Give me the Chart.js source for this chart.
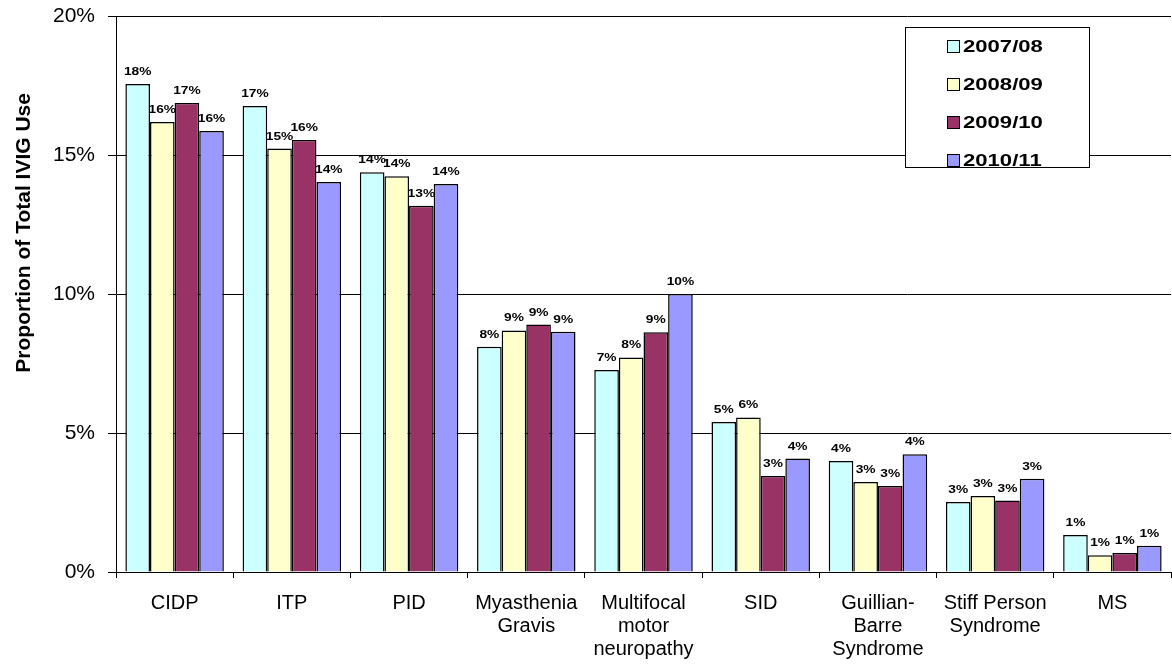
<!DOCTYPE html>
<html>
<head>
<meta charset="utf-8">
<script src="https://cdn.jsdelivr.net/npm/chart.js@4.4.0/dist/chart.umd.min.js"></script>
<style>
  html, body { margin: 0; padding: 0; background: #fff; }
  #wrap { width: 1172px; height: 665px; }
</style>
</head>
<body>
<div id="wrap"><canvas id="c" width="1172" height="665"></canvas></div>
<script>
const categories = [
  'CIDP', 'ITP', 'PID', ['Myasthenia', 'Gravis'], ['Multifocal', 'motor', 'neuropathy'],
  'SID', ['Guillian-', 'Barre', 'Syndrome'], ['Stiff Person', 'Syndrome'], 'MS'
];
const seriesNames = ['2007/08', '2008/09', '2009/10', '2010/11'];
const values0708 = [17.55, 16.76, 14.38, 8.10, 7.27, 5.40, 3.99, 2.52, 1.33];
const values0809 = [16.19, 15.23, 14.24, 8.69, 7.72, 5.56, 3.24, 2.73, 0.60];
const values0910 = [16.87, 15.54, 13.17, 8.90, 8.62, 3.45, 3.09, 2.57, 0.68];
const values1011 = [15.86, 14.03, 13.96, 8.64, 10.00, 4.08, 4.24, 3.35, 0.94];
const yTicks = [0, 5, 10, 15, 20];
const yTitle = 'Proportion of Total IVIG Use';

const colors = ['#CCFFFF', '#FFFFCC', '#993366', '#9999FF'];
const allValues = [values0708, values0809, values0910, values1011];

const valueLabels = {
  id: 'valueLabels',
  afterDatasetsDraw(chart) {
    const ctx = chart.ctx;
    ctx.save();
    ctx.fillStyle = '#000';
    ctx.font = 'bold 11px "Liberation Sans", Arial, sans-serif';
    ctx.textAlign = 'center';
    ctx.textBaseline = 'alphabetic';
    chart.data.datasets.forEach((ds, di) => {
      const meta = chart.getDatasetMeta(di);
      meta.data.forEach((bar, i) => {
        const txt = Math.round(ds.data[i]) + '%';
        ctx.save();
        ctx.translate(bar.x, bar.y - 9);
        ctx.scale(1.25, 1);
        ctx.fillText(txt, 0, 0);
        ctx.restore();
      });
    });
    ctx.restore();
  }
};

const boxLegend = {
  id: 'boxLegend',
  afterDraw(chart) {
    const ctx = chart.ctx;
    const ca = chart.chartArea;
    const w = 184, h = 140;
    const left = ca.right - 82 - w;
    const top = ca.top + 11;
    ctx.save();
    ctx.fillStyle = '#fff';
    ctx.fillRect(left, top, w, h);
    ctx.strokeStyle = '#000';
    ctx.lineWidth = 1;
    ctx.strokeRect(left + 0.5, top + 0.5, w, h);
    ctx.font = 'bold 17px "Liberation Sans", Arial, sans-serif';
    ctx.textBaseline = 'middle';
    ctx.textAlign = 'left';
    chart.data.datasets.forEach((ds, i) => {
      const cy = top + 19 + i * 38;
      ctx.fillStyle = ds.backgroundColor;
      ctx.fillRect(left + 42, cy - 6, 13, 13);
      ctx.strokeStyle = '#000';
      ctx.lineWidth = 1;
      ctx.strokeRect(left + 42.5, cy - 5.5, 12, 12);
      ctx.fillStyle = '#000';
      ctx.save();
      ctx.translate(left + 58, cy + 1);
      ctx.scale(1.3, 1);
      ctx.fillText(ds.label, 0, 0);
      ctx.restore();
    });
    ctx.restore();
  }
};

const axisTitle = {
  id: 'axisTitle',
  afterDraw(chart) {
    const ctx = chart.ctx;
    const ca = chart.chartArea;
    ctx.save();
    ctx.translate(24, ca.top + ca.height * 0.39);
    ctx.rotate(-Math.PI / 2);
    ctx.font = 'bold 21px "Liberation Sans", Arial, sans-serif';
    ctx.fillStyle = '#000';
    ctx.textAlign = 'center';
    ctx.textBaseline = 'middle';
    ctx.fillText(yTitle, 0, 0);
    ctx.restore();
  }
};

new Chart(document.getElementById('c'), {
  type: 'bar',
  data: {
    labels: categories,
    datasets: seriesNames.map((name, i) => ({
      label: name,
      data: allValues[i],
      backgroundColor: colors[i],
      borderColor: '#000',
      borderWidth: 1.5,
      categoryPercentage: 0.84,
      barPercentage: 1.0
    }))
  },
  options: {
    responsive: false,
    animation: false,
    layout: { padding: { top: 16, right: 1, left: 0, bottom: 0 } },
    plugins: { legend: { display: false }, tooltip: { enabled: false } },
    scales: {
      x: {
        afterFit(scale) { scale.height = 93; scale.paddingLeft = 0; scale.paddingRight = 0; },
        grid: {
          display: true, drawOnChartArea: false, drawTicks: true,
          tickLength: 6, color: '#000', lineWidth: 1, offset: true
        },
        border: { display: true, color: '#000', width: 1 },
        ticks: {
          color: '#000', padding: 14, maxRotation: 0, autoSkip: false,
          font: { family: '"Liberation Sans", Arial, sans-serif', size: 20, lineHeight: 1.15 }
        }
      },
      y: {
        min: 0, max: 20,
        afterFit(scale) { scale.width = 116; scale.paddingTop = 0; scale.paddingBottom = 0; },
        afterBuildTicks(scale) { scale.ticks = yTicks.map(v => ({ value: v })); },
        grid: { color: '#000', lineWidth: 1, tickLength: 8, drawTicks: true },
        border: { display: true, color: '#000', width: 1 },
        ticks: {
          color: '#000', padding: 13,
          callback: v => v + '%',
          font: { family: '"Liberation Sans", Arial, sans-serif', size: 21 }
        }
      }
    }
  },
  plugins: [valueLabels, boxLegend, axisTitle]
});
</script>
</body>
</html>
